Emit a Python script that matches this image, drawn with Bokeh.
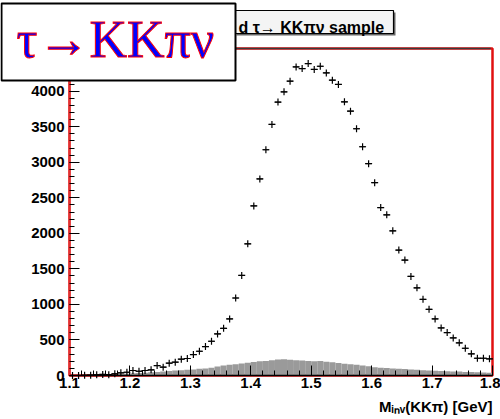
import numpy as np
from bokeh.plotting import figure
from bokeh.models import Label, FixedTicker, BoxAnnotation
from bokeh.embed import file_html
from bokeh.resources import INLINE

# ---- data ----
bin_lo = 1.10
bin_width = 0.01
signal_counts = [
    0, 0, 3, 5, 10, 15, 12, 24, 38, 46,
    70, 60, 70, 80, 140, 117, 173, 187, 229, 239,
    295, 341, 407, 482, 585, 664, 796, 1090, 1408, 1853,
    2386, 2765, 3176, 3532, 3846, 3990, 4140, 4341, 4318, 4388,
    4305, 4350, 4257, 4154, 4094, 3850, 3719, 3471, 3218, 2980,
    2713, 2362, 2260, 2035, 1764, 1624, 1394, 1233, 1071, 931,
    796, 669, 604, 529, 459, 383, 305, 243, 243, 234,
]
background_counts = [
    0, 0, 0, 2, 5, 8, 12, 15, 20, 25,
    30, 35, 40, 45, 50, 55, 65, 70, 75, 80,
    85, 95, 100, 110, 125, 140, 150, 160, 170, 180,
    190, 200, 205, 215, 225, 230, 220, 215, 210, 205,
    200, 205, 195, 185, 175, 165, 160, 150, 140, 130,
    115, 110, 105, 100, 95, 90, 85, 80, 75, 72,
    68, 65, 60, 58, 55, 50, 48, 45, 42, 40,
]
x_ticks = [1.1, 1.2, 1.3, 1.4, 1.5, 1.6, 1.7, 1.8]
y_ticks = [0, 500, 1000, 1500, 2000, 2500, 3000, 3500, 4000]
x_lo, x_hi = 1.1, 1.8
y_lo, y_hi = 0, 4600
x_title = "Mᵢₙᵥ(KKπ) [GeV]"
title_text = "d τ→ KKπν sample"
big_text = "τ→KKπν"

# ---- layout: the data box sits at these canvas pixels ----
W, H = 500, 419
box_left, box_right, box_top, box_bottom = 69, 492, 48, 375
sx = (box_right - box_left) / (x_hi - x_lo)
sy = (box_bottom - box_top) / (y_hi - y_lo)
xr = (x_lo - box_left / sx, x_hi + (W - box_right) / sx)
yr = (y_lo - (H - box_bottom) / sy, y_hi + box_top / sy)

n = len(signal_counts)
lefts = bin_lo + bin_width * np.arange(n)
rights = lefts + bin_width
centers = lefts + bin_width / 2

p = figure(width=W, height=H, x_range=xr, y_range=yr,
           output_backend="svg", toolbar_location=None,
           min_border_left=0, min_border_right=0, min_border_top=0, min_border_bottom=0)
p.background_fill_color = "white"
p.border_fill_color = "white"
p.outline_line_color = None
p.grid.visible = False

frame_box = BoxAnnotation(left=x_lo, right=x_hi, bottom=y_lo, top=y_hi,
                          fill_alpha=0, line_color="#e01010", line_alpha=1,
                          line_width=2.5, level="underlay")
p.add_layout(frame_box)

p.quad(left=lefts, right=rights, top=background_counts, bottom=0,
       fill_color="#9a9a9a", line_color=None)

p.segment(x0=lefts, x1=rights, y0=signal_counts, y1=signal_counts,
          line_color="black", line_width=1)
p.scatter(centers, signal_counts, marker="cross", size=7, line_color="black", line_width=1.2)

top_line = BoxAnnotation(left=1.1 + 0.27, right=x_hi - 0.003, bottom=y_hi, top=y_hi,
                         fill_alpha=0, line_color="#3a3a3a", line_alpha=1, line_width=1.5)
p.add_layout(top_line)

font = "Liberation Sans"
minor_x = [round(1.1 + 0.02 * i, 2) for i in range(36)]
minor_y = list(range(0, 4601, 100))
p.xaxis.ticker = FixedTicker(ticks=x_ticks, minor_ticks=minor_x)
p.yaxis.ticker = FixedTicker(ticks=y_ticks, minor_ticks=minor_y)
p.xaxis.fixed_location = y_lo
p.yaxis.fixed_location = x_lo
p.xaxis.bounds = (x_lo, x_hi)
p.yaxis.bounds = (y_lo, y_hi)
for ax in (p.xaxis[0], p.yaxis[0]):
    ax.major_tick_in = 10
    ax.major_tick_out = 0
    ax.minor_tick_in = 5
    ax.minor_tick_out = 0
    ax.major_tick_line_color = "black"
    ax.minor_tick_line_color = "black"
    ax.major_label_text_font = font
    ax.major_label_text_font_style = "bold"
    ax.major_label_text_font_size = "15px"
    ax.major_label_text_color = "black"
p.xaxis.major_label_standoff = 2
p.yaxis.major_label_standoff = 5
p.xaxis.axis_line_color = "black"
p.xaxis.axis_line_width = 1.5
p.yaxis.axis_line_color = "#e03030"
p.yaxis.axis_line_width = 1.5

xlab = Label(x=492, y=406, x_units="canvas", y_units="canvas", text=x_title,
             text_font=font, text_font_style="bold", text_font_size="15px",
             text_align="right", text_baseline="middle", text_color="black")
p.add_layout(xlab)

# title box (its left part hidden behind the big box)
title_shadow = BoxAnnotation(left=236, right=395, top=12, bottom=35,
                             left_units="canvas", right_units="canvas",
                             top_units="canvas", bottom_units="canvas",
                             fill_color="#666666", fill_alpha=1, line_color=None)
p.add_layout(title_shadow)
title_box = BoxAnnotation(left=234, right=393, top=10, bottom=33,
                          left_units="canvas", right_units="canvas",
                          top_units="canvas", bottom_units="canvas",
                          fill_color="#f4f4f4", fill_alpha=1,
                          line_color="black", line_alpha=1, line_width=1.2)
p.add_layout(title_box)
title = Label(x=238, y=27, x_units="canvas", y_units="canvas", text=title_text,
              text_font=font, text_font_style="bold", text_font_size="16px",
              text_align="left", text_baseline="alphabetic", text_color="black")
p.add_layout(title)

big_box = BoxAnnotation(left=1, right=235, top=3, bottom=80,
                        left_units="canvas", right_units="canvas",
                        top_units="canvas", bottom_units="canvas",
                        fill_color="white", fill_alpha=1,
                        line_color="black", line_alpha=1, line_width=2)
p.add_layout(big_box)
big = Label(x=115, y=39, x_units="canvas", y_units="canvas", text=big_text,
            text_font="Liberation Serif", text_font_size="52px",
            text_align="center", text_baseline="middle", text_color="blue",
            text_outline_color="red")
p.add_layout(big)

open("out.html", "w").write(file_html(p, INLINE))
